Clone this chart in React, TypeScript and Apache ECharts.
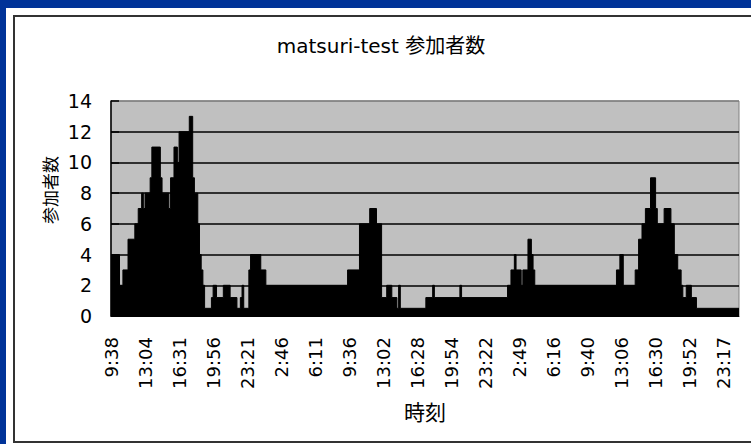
import React, { useEffect, useRef } from 'react';
import * as echarts from 'echarts';

// x-axis tick labels (one every 20 samples)
const timeLabels = [
  '9:38', '13:04', '16:31', '19:56', '23:21', '2:46', '6:11', '9:36', '13:02',
  '16:28', '19:54', '23:22', '2:49', '6:16', '9:40', '13:06', '16:30', '19:52', '23:17',
];
const labelStep = 20;

// participant counts read left to right, as runs of equal consecutive samples
const runValues = [
  4, 2, 3, 5, 6, 7, 8, 7, 8, 9, 11, 9, 8, 7, 9, 11, 10, 12, 13,
  9, 8, 6, 4, 3, 2, 0.5, 1.2, 2, 1.2, 2, 1.2, 0.5, 1.2, 2, 0.5, 3, 4, 3,
  2, 3, 6, 7, 6, 1.2, 2, 1.2, 0.5, 2, 0.5, 1.2, 2, 1.2, 2, 1.2,
  2, 3, 4, 3, 2, 3, 5, 4, 3,
  2, 3, 4, 2, 3, 5, 6, 7, 9, 7, 6, 7, 6, 4, 3, 2, 1.2, 2, 1.2, 0.5,
];
const runLengths = [
  5, 2, 3, 4, 2, 2, 1, 1, 3, 1, 5, 1, 4, 1, 2, 2, 1, 6, 2,
  1, 2, 1, 1, 1, 1, 4, 1, 2, 4, 4, 4, 2, 1, 1, 3, 1, 6, 3,
  48, 7, 6, 4, 3, 3, 3, 3, 1, 1, 15, 4, 1, 15, 1, 27,
  2, 2, 1, 3, 1, 3, 2, 1, 1,
  48, 2, 2, 7, 2, 2, 2, 3, 3, 1, 4, 4, 2, 2, 2, 1, 2, 3, 3, 25,
];

const yMax = 14;
const yStep = 2;

export default function App() {
  const ref = useRef<HTMLDivElement>(null);

  useEffect(() => {
    if (!ref.current) return;
    const chart = echarts.init(ref.current, null, { renderer: 'svg' });

    const points: [number, number][] = [];
    let x = 0;
    runValues.forEach((v, i) => {
      points.push([x, v]);
      x += runLengths[i];
    });
    const sampleCount = x;
    points.push([sampleCount, runValues[runValues.length - 1]]);

    const splitColors: string[] = [];
    for (let v = 0; v <= yMax; v += yStep) splitColors.push(v === yMax ? '#808080' : '#000000');

    const cjk = '"Noto Sans CJK JP", "Noto Sans CJK SC", sans-serif';
    const digits = '"DejaVu Sans", sans-serif';

    chart.setOption({
      animation: false,
      backgroundColor: 'transparent',
      grid: {
        left: 111,
        top: 101,
        width: 628,
        height: 215,
        show: true,
        backgroundColor: '#C0C0C0',
        borderColor: '#808080',
        borderWidth: 1,
      },
      xAxis: {
        type: 'value',
        min: 0,
        max: sampleCount,
        interval: labelStep,
        axisLine: { show: true, onZero: false, lineStyle: { color: '#000', width: 1 } },
        axisTick: { show: false },
        splitLine: { show: false },
        axisLabel: {
          rotate: 90,
          margin: 21,
          fontFamily: digits,
          fontSize: 18,
          color: '#000',
          formatter: (v: number) => {
            const k = v / labelStep;
            return Number.isInteger(k) && k < timeLabels.length ? timeLabels[k] : '';
          },
        },
        name: '時刻',
        nameLocation: 'middle',
        nameGap: 84,
        nameTextStyle: { fontFamily: cjk, fontSize: 21, color: '#000' },
      },
      yAxis: {
        type: 'value',
        min: 0,
        max: yMax,
        interval: yStep,
        axisLine: { show: true, lineStyle: { color: '#000', width: 1.5 } },
        axisTick: { show: true, inside: true, length: 8, lineStyle: { color: '#000', width: 1.5 } },
        axisLabel: { margin: 19, fontFamily: digits, fontSize: 19, color: '#000' },
        splitLine: { show: true, lineStyle: { color: splitColors, width: 1.5 } },
      },
      series: [
        {
          type: 'line',
          step: 'end',
          data: points,
          symbol: 'none',
          showSymbol: false,
          silent: true,
          clip: true,
          lineStyle: { color: '#000', width: 1 },
          itemStyle: { color: '#000' },
          areaStyle: { color: '#000', opacity: 1 },
        },
      ],
      graphic: [
        {
          type: 'text',
          x: 381,
          y: 46,
          style: {
            text: 'matsuri-test 参加者数',
            fontSize: 20,
            fontFamily: '"DejaVu Sans", "Noto Sans CJK JP", sans-serif',
            fill: '#000',
            align: 'center',
            verticalAlign: 'middle',
            textAlign: 'center',
            textVerticalAlign: 'middle',
          },
        },
        {
          type: 'text',
          x: 49,
          y: 190,
          rotation: Math.PI / 2,
          style: {
            text: '参加者数',
            fontSize: 17,
            fontFamily: cjk,
            fill: '#000',
            align: 'center',
            verticalAlign: 'middle',
            textAlign: 'center',
            textVerticalAlign: 'middle',
          },
        },
      ],
    });

    return () => chart.dispose();
  }, []);

  return (
    <div
      style={{
        position: 'fixed',
        left: 0,
        top: 0,
        width: 751,
        height: 444,
        background: '#003399',
        overflow: 'hidden',
      }}
    >
      <div style={{ position: 'absolute', left: 6, top: 8, width: 745, height: 436, background: '#ffffff' }} />
      <div
        style={{
          position: 'absolute',
          left: 13,
          top: 15,
          width: 760,
          height: 424,
          border: '2px solid #333333',
        }}
      />
      <div ref={ref} style={{ position: 'absolute', left: 0, top: 0, width: 751, height: 444 }} />
    </div>
  );
}
